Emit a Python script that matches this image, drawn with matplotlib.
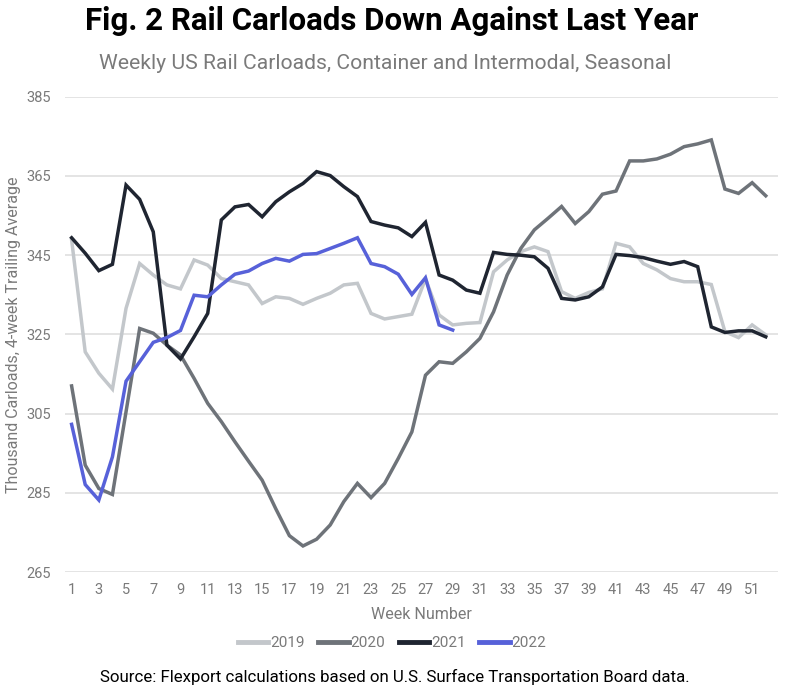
import numpy as np
import matplotlib.pyplot as plt

plt.rcParams['font.family'] = ['Roboto', 'DejaVu Sans']

weeks = np.arange(1, 53)

# thousand carloads, 4-week trailing average
y2019 = [348.9, 320.6, 315.2, 311.2, 331.6, 342.9, 340.0, 337.5, 336.5, 343.8,
         342.5, 339.1, 338.3, 337.5, 332.8, 334.5, 334.1, 332.6, 334.1, 335.4,
         337.5, 337.9, 330.3, 328.9, 329.5, 330.1, 339.0, 329.9, 327.4, 327.8,
         328.0, 340.8, 343.8, 345.9, 347.1, 345.9, 335.8, 334.1, 335.6, 336.5,
         348.0, 347.1, 342.9, 341.3, 339.1, 338.3, 338.3, 337.6, 325.7, 324.2,
         327.4, 324.9]
y2020 = [312.0, 292.0, 286.1, 284.6, 305.5, 326.5, 325.3, 322.3, 319.8, 313.9,
         307.6, 303.0, 297.9, 293.0, 288.2, 281.0, 274.2, 271.6, 273.3, 276.9,
         282.8, 287.4, 283.8, 287.4, 293.7, 300.4, 314.7, 318.1, 317.7, 320.6,
         324.0, 330.7, 340.0, 346.7, 351.4, 354.3, 357.3, 353.0, 356.0, 360.4,
         361.2, 368.8, 368.8, 369.3, 370.5, 372.4, 373.1, 374.1, 361.7, 360.6,
         363.3, 360.0]
y2021 = [349.4, 345.5, 341.1, 342.7, 362.7, 359.1, 350.9, 322.3, 318.8, 324.4,
         330.3, 353.9, 357.2, 357.8, 354.7, 358.5, 361.0, 363.1, 366.1, 365.1,
         362.3, 359.8, 353.5, 352.6, 351.9, 349.7, 353.3, 340.0, 338.7, 336.2,
         335.4, 345.7, 345.2, 345.0, 344.6, 341.7, 334.1, 333.7, 334.5, 337.0,
         345.2, 344.9, 344.4, 343.5, 342.7, 343.4, 342.1, 326.9, 325.5, 325.9,
         325.9, 324.4]
y2022 = [302.3, 287.1, 283.2, 294.1, 313.2, 318.1, 323.0, 324.2, 326.0, 334.9,
         334.5, 337.5, 340.2, 341.0, 342.9, 344.2, 343.5, 345.2, 345.4, 346.7,
         348.0, 349.4, 342.9, 342.1, 340.2, 335.1, 339.3, 327.4, 326.1]

series = [('2019', y2019, '#c3c7cb'),
          ('2020', y2020, '#6e7379'),
          ('2021', y2021, '#1f2531'),
          ('2022', y2022, '#5761d9')]

fig = plt.figure(figsize=(8, 6.96), dpi=100)
ax = fig.add_axes([0.081, 0.178, 0.8915, 0.683])

for name, vals, col in series:
    ax.plot(weeks[:len(vals)], vals, color=col, lw=2.5, label=name,
            solid_joinstyle='miter')

ax.set_xlim(0.5, 52.9)
ax.set_ylim(265, 385)
ax.set_yticks(np.arange(265, 386, 20))
ax.set_xticks(np.arange(1, 52, 2))
ax.grid(axis='y', color='#dcdcdc', lw=1.1)
ax.set_axisbelow(True)
for s in ax.spines.values():
    s.set_visible(False)
ax.tick_params(length=0, labelsize=10.5, labelcolor='#7a7a7a')
ax.tick_params(axis='x', pad=8)
ax.tick_params(axis='y', pad=10)

ax.set_xlabel('Week Number', fontsize=11.5, color='#7a7a7a', labelpad=7)
ax.set_ylabel('Thousand Carloads, 4-week Trailing Average', fontsize=11.5,
              color='#7a7a7a', labelpad=4)

leg = fig.legend(loc='center', bbox_to_anchor=(0.49, 0.076), ncol=4,
                 frameon=False, fontsize=11, handlelength=2.0,
                 handletextpad=0.1, columnspacing=0.9)
for t in leg.get_texts():
    t.set_color('#7a7a7a')
for h in leg.get_lines():
    h.set_linewidth(3.5)

fig.text(0.49, 0.970, 'Fig. 2 Rail Carloads Down Against Last Year',
         ha='center', va='center', fontsize=22.5, fontweight='bold', color='black')
fig.text(0.481, 0.909, 'Weekly US Rail Carloads, Container and Intermodal, Seasonal',
         ha='center', va='center', fontsize=15.2, color='#7a7a7a')
fig.text(0.494, 0.027,
         'Source: Flexport calculations based on U.S. Surface Transportation Board data.',
         ha='center', va='center', fontsize=12.2, color='black')

plt.savefig('out.png', dpi=100)
